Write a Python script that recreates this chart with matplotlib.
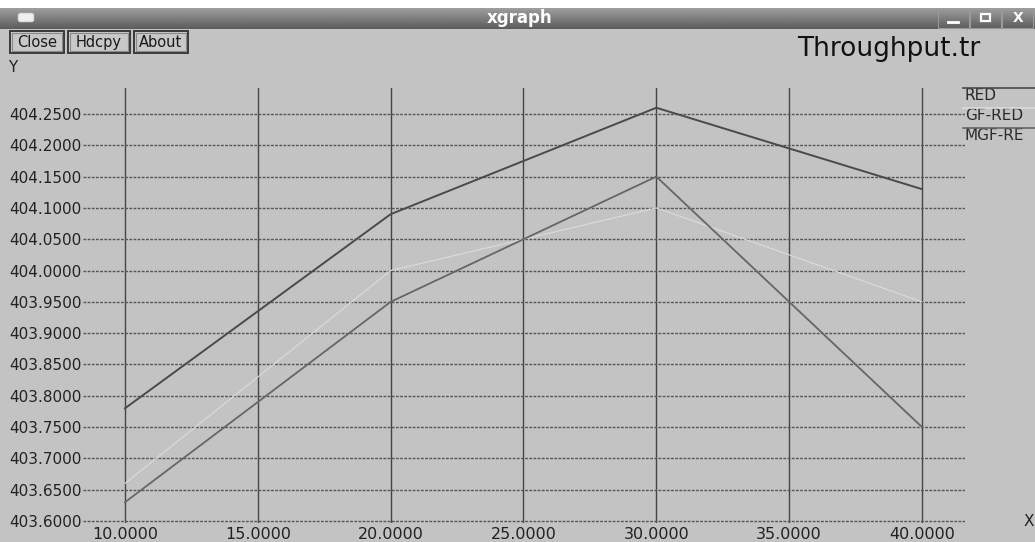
import matplotlib
matplotlib.use("Agg")
import matplotlib.pyplot as plt
import numpy as np
from matplotlib.patches import Rectangle, FancyBboxPatch

# ---- data ----
x_vals = [10, 20, 30, 40]
red = [403.78, 404.09, 404.26, 404.13]
gf_red = [403.63, 403.95, 404.15, 403.75]
mgf_red = [403.66, 404.00, 404.10, 403.95]
series_names = ["RED", "GF-RED", "MGF-RE"]
x_ticks = [10, 15, 20, 25, 30, 35, 40]
y_ticks = [403.60, 403.65, 403.70, 403.75, 403.80, 403.85, 403.90, 403.95,
           404.00, 404.05, 404.10, 404.15, 404.20, 404.25]
buttons = ["Close", "Hdcpy", "About"]
chart_title = "Throughput.tr"
window_title = "xgraph"

W, H = 1035, 542
BG = "#c3c3c3"
fig = plt.figure(figsize=(W / 100, H / 100), dpi=100)
fig.patch.set_facecolor(BG)

# overlay axes in pixel coordinates for window decorations
ov = fig.add_axes([0, 0, 1, 1])
ov.set_xlim(0, W)
ov.set_ylim(H, 0)
ov.axis("off")
ov.set_zorder(0)

# white strip on top
ov.add_patch(Rectangle((0, 0), W, 8, facecolor="white", edgecolor="none"))
# title bar gradient
grad = np.linspace(0.62, 0.36, 50).reshape(-1, 1)
ov.imshow(grad, cmap="gray", vmin=0, vmax=1, extent=(0, W, 29, 8), aspect="auto", zorder=1)
ov.set_xlim(0, W)
ov.set_ylim(H, 0)
ov.add_patch(FancyBboxPatch((19, 14), 14, 7, boxstyle="round,pad=0.5,rounding_size=2",
                            facecolor="#f0f0f0", edgecolor="#dddddd", zorder=2))
ov.text(520, 18, window_title, color="white", fontsize=12, fontweight="bold",
        ha="center", va="center", family="DejaVu Sans", zorder=3)
# window buttons
for bx in [938, 970, 1002]:
    ov.add_patch(Rectangle((bx, 9), 31, 19, facecolor="none", edgecolor="#9a9a9a", lw=0.8, zorder=2))
ov.plot([948, 958], [22, 22], color="white", lw=2, zorder=3)
ov.add_patch(Rectangle((981, 14), 9, 7, facecolor="none", edgecolor="white", lw=1.6, zorder=3))
ov.text(1018, 18, "X", color="white", fontsize=10, fontweight="bold", ha="center", va="center", zorder=3)

# xgraph buttons
bx_pos = [(10, 54), (68, 62), (134, 54)]
for (bx, bw), label in zip(bx_pos, buttons):
    ov.add_patch(Rectangle((bx, 31), bw, 22, facecolor="#c8c8c8", edgecolor="#3a3a3a", lw=1.4, zorder=2))
    ov.add_patch(Rectangle((bx + 2, 33), bw - 4, 18, facecolor="none", edgecolor="#8a8a8a", lw=0.8, zorder=2))
    ov.text(bx + bw / 2, 42.5, label, fontsize=10.5, ha="center", va="center",
            color="#1a1a1a", family="DejaVu Sans", zorder=3)

ov.text(797, 49, chart_title, fontsize=19, ha="left", va="center", color="#111111", family="DejaVu Sans")
ov.text(8, 68, "Y", fontsize=11, ha="left", va="center", color="#222222", family="DejaVu Sans")
ov.text(1024, 522, "X", fontsize=11, ha="left", va="center", color="#222222", family="DejaVu Sans")

# ---- data axes ----
px_x10, px_x40 = 125, 922
px_y_lo, px_y_hi = 521, 114  # 403.60, 404.25
ax_l, ax_r, ax_t, ax_b = 83, 965, 88, 523
sx = (x_ticks[-1] - x_ticks[0]) / (px_x40 - px_x10)
sy = (y_ticks[-1] - y_ticks[0]) / (px_y_lo - px_y_hi)
xlim = (x_ticks[0] - (px_x10 - ax_l) * sx, x_ticks[-1] + (ax_r - px_x40) * sx)
ylim = (y_ticks[0] - (ax_b - px_y_lo) * sy, y_ticks[-1] + (px_y_hi - ax_t) * sy)

ax = fig.add_axes([ax_l / W, 1 - ax_b / H, (ax_r - ax_l) / W, (ax_b - ax_t) / H])
ax.set_zorder(2)
ax.patch.set_alpha(0)
ax.set_xlim(*xlim)
ax.set_ylim(*ylim)
for s in ax.spines.values():
    s.set_visible(False)
ax.set_xticks(x_ticks)
ax.set_yticks(y_ticks)
ax.set_xticklabels([f"{v:.4f}" for v in x_ticks])
ax.set_yticklabels([f"{v:.4f}" for v in y_ticks])
ax.tick_params(axis="both", length=0, labelsize=11, colors="#222222")
ax.tick_params(axis="y", pad=1)
ax.tick_params(axis="x", pad=3, labelsize=11.5)
for lab in ax.get_xticklabels() + ax.get_yticklabels():
    lab.set_family("DejaVu Sans")
ax.xaxis.grid(True, color="#444444", lw=1.0, ls="-")
ax.yaxis.grid(True, color="#555555", lw=1.0, ls=(0, (2, 1)))
ax.set_axisbelow(True)

ax.plot(x_vals, red, color="#4a4a4a", lw=1.4, zorder=5)
ax.plot(x_vals, gf_red, color="#666666", lw=1.3, zorder=5)
ax.plot(x_vals, mgf_red, color="#dcdcdc", lw=0.8, zorder=4)

# legend (xgraph style: label with line above)
leg_colors = ["#4a4a4a", "#dcdcdc", "#666666"]
leg_y = [96, 116, 136]
for name, c, ly in zip(series_names, leg_colors, leg_y):
    ov.text(965, ly, name, fontsize=11, ha="left", va="center", color="#2a2a2a",
            family="DejaVu Sans", zorder=3)
    ov.plot([963, W], [ly - 8.5, ly - 8.5], color=c, lw=1.2, zorder=3)

fig.savefig("out.png", dpi=100, facecolor=BG)
